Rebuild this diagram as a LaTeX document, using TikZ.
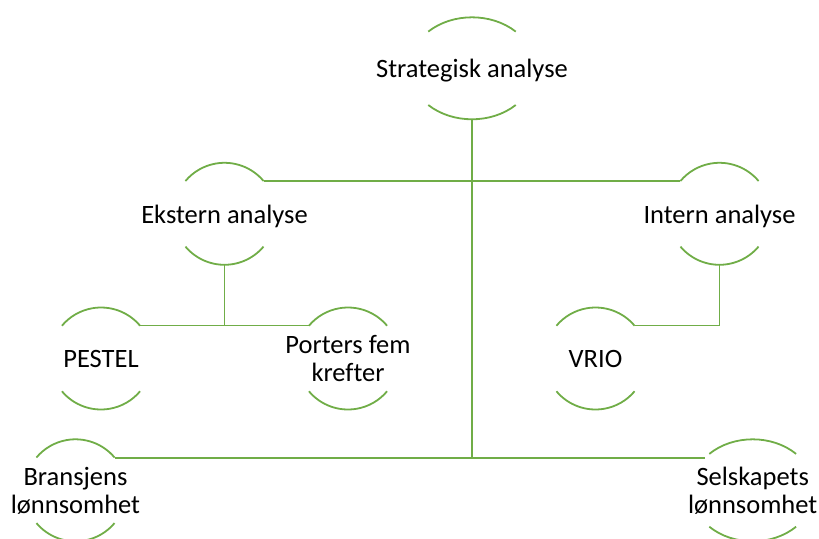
\documentclass[tikz,border=0pt]{standalone}
\usepackage{fontspec}
\setmainfont{Carlito}[Ligatures=NoCommon]
\usepackage{tikz}
\definecolor{leafgreen}{HTML}{70AD47}
\tikzset{ring/.pic={
	\pgfmathsetmacro\ringang{atan(0.8391*#1/51)}
	\draw[ringline] (\ringang:#1 and 51) arc[start angle=\ringang, end angle=180-\ringang, x radius=#1, y radius=51];
	\draw[ringline] (180+\ringang:#1 and 51) arc[start angle=180+\ringang, end angle=360-\ringang, x radius=#1, y radius=51];
	\coordinate (-ne) at (40:#1 and 51);
	\coordinate (-nw) at (140:#1 and 51);
	\coordinate (-s) at (0,-51);
}}
\tikzset{
	ringline/.style={leafgreen, line width=0.9pt},
	toplink/.style={leafgreen, line width=1pt},
	sublink/.style={leafgreen, line width=0.6pt},
	nodetext/.style={align=center, inner sep=0pt, text depth=0pt}
}

\begin{document}
\begin{tikzpicture}[x=0.5pt, y=0.5pt, font=\fontsize{13.25}{14}\selectfont]
\useasboundingbox (0,0) rectangle (819,538);

\node[nodetext] (str) at (472,469.7) {Strategisk analyse};
\node[nodetext] (ext) at (224.5,324.2) {Ekstern analyse};
\node[nodetext] (int) at (719.5,324.2) {Intern analyse};
\node[nodetext] (pes) at (101,179.5) {PESTEL};
\node[nodetext] (por) at (348,179.5) {Porters fem\\krefter};
\node[nodetext] (vri) at (595.5,179.5) {VRIO};
\node[nodetext] (bra) at (75.5,47.7) {Bransjens\\lønnsomhet};
\node[nodetext] (sel) at (752.7,47.7) {Selskapets\\lønnsomhet};

\pic (str) at (str) {ring=63};
\pic (ext) at (ext) {ring=51};
\pic (int) at (int) {ring=51};
\pic (pes) at (pes) {ring=51};
\pic (por) at (por) {ring=51};
\pic (vri) at (vri) {ring=51};
\pic (bra) at (bra) {ring=51};
\pic (sel) at (sel) {ring=62};

\draw[toplink] (str-s) |- (ext-ne);
\draw[toplink] (str-s) |- (int-nw);
\draw[toplink] (str-s) |- (bra-ne);
\draw[toplink] (str-s) |- (sel-nw);

\draw[sublink] (ext-s) |- (pes-ne);
\draw[sublink] (ext-s) |- (por-nw);
\draw[sublink] (int-s) |- (vri-ne);
\end{tikzpicture}
\end{document}
